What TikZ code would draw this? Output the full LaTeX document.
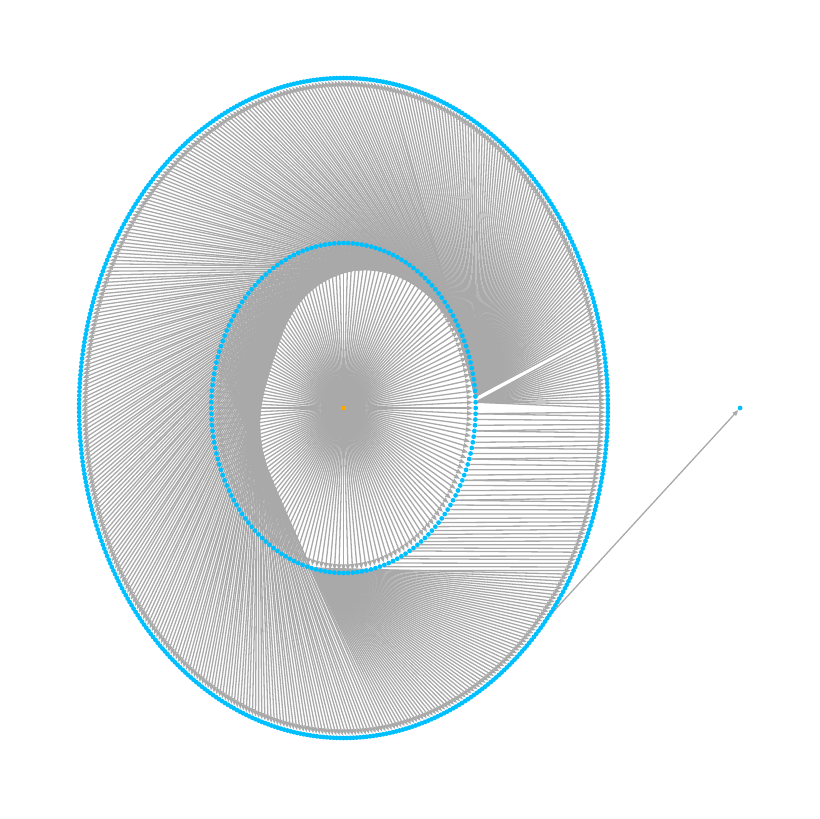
\documentclass[tikz,border=0pt]{standalone}
\usetikzlibrary{arrows.meta}
\definecolor{edgegray}{HTML}{A9A9A9}
\definecolor{nodeblue}{HTML}{00BFFF}
\definecolor{nodeorange}{HTML}{FFA500}
\pgfdeclarelayer{edgelayer}
\pgfsetlayers{edgelayer,main}
\begin{document}
\begin{tikzpicture}[x=132.2pt,y=165pt,
  edge/.style={draw=edgegray, line width=1.3pt, -{Triangle[length=6pt,width=4.5pt]}},
  dot/.style={circle, fill=nodeblue, inner sep=0pt, minimum size=4.8pt},
  rootdot/.style={circle, fill=nodeorange, inner sep=0pt, minimum size=4.8pt}]
\useasboundingbox (-343.5pt,-411pt) rectangle (475.5pt,408pt);
% nodes
\node[rootdot] (c) at (0,0) {};
\foreach \i in {0,...,179} {\node[dot] (i\i) at ({2*\i}:1) {};}
\foreach \j in {0,...,499} {\node[dot] (o\j) at ({0.72*\j}:2) {};}
\node[dot] (x) at (3,0) {};
% edges
\begin{pgfonlayer}{edgelayer}
\foreach \i in {0,...,179} {\draw[edge] (c) -- (i\i);}
\foreach \j in {0,...,499} {
  \pgfmathsetmacro\ph{0.72*\j}
  \pgfmathtruncatemacro\p{(\ph<13.5) ? 1 : ((\ph<80) ? 2 : ((\ph<231) ? round((10+(\ph-80)/151*96)/2) : ((\ph<280) ? round((106+(\ph-231)*1.19)/2) : ((\ph<330) ? 128 : mod(round(asin(max(-1,min(1,2*sin(\ph))))/2)+180,180)))))}
  \draw[edge] (i\p) -- (o\j);
}
\draw[edge] (o445) -- (x);
\end{pgfonlayer}
\end{tikzpicture}
\end{document}
